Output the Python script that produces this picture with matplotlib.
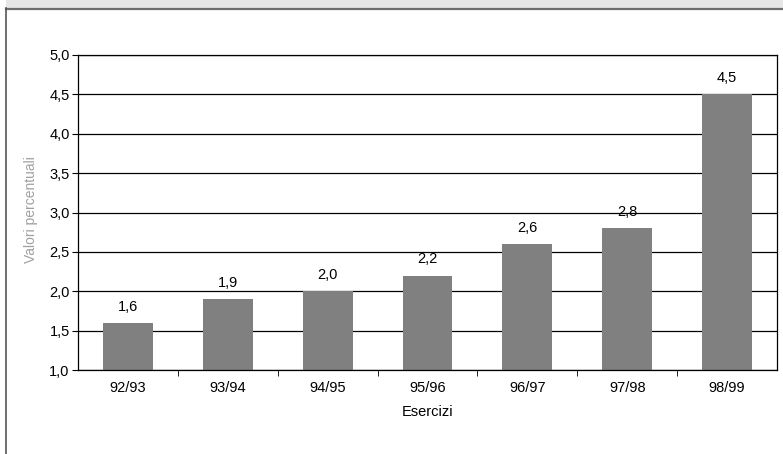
import matplotlib
matplotlib.use("Agg")
import matplotlib.pyplot as plt
from matplotlib.patches import Rectangle
from matplotlib.lines import Line2D

# dati del grafico
esercizi = ["92/93", "93/94", "94/95", "95/96", "96/97", "97/98", "98/99"]
valori = [1.6, 1.9, 2.0, 2.2, 2.6, 2.8, 4.5]
tick_y = [1.0, 1.5, 2.0, 2.5, 3.0, 3.5, 4.0, 4.5, 5.0]

plt.rcParams["font.family"] = ["Liberation Sans", "DejaVu Sans"]

fig = plt.figure(figsize=(7.83, 4.54), dpi=100)

# cornice in alto e a sinistra
fig.add_artist(Rectangle((6 / 783, 1 - 8 / 454), 1, 8 / 454,
                         transform=fig.transFigure, color="#e6e6e6", lw=0))
fig.add_artist(Line2D([6 / 783, 1], [1 - 8.5 / 454, 1 - 8.5 / 454],
                      transform=fig.transFigure, color="#6e6e6e", lw=1.6))
fig.add_artist(Line2D([5.5 / 783, 5.5 / 783], [0, 1 - 7.5 / 454],
                      transform=fig.transFigure, color="#555555", lw=1.2))

ax = fig.add_axes([78 / 783, 84 / 454, 699 / 783, 315 / 454])
x = range(len(esercizi))
ax.bar(x, valori, width=0.5, color="#808080", zorder=2)

for xi, v in zip(x, valori):
    ax.annotate(f"{v:.1f}".replace(".", ","), (xi, v), xytext=(0, 6.5),
                textcoords="offset points", ha="center", va="bottom",
                fontsize=10.5)

ax.set_ylim(1.0, 5.0)
ax.set_xlim(-0.5, len(esercizi) - 0.5)
ax.set_yticks(tick_y)
ax.set_yticklabels([f"{t:.1f}".replace(".", ",") for t in tick_y])
ax.set_xticks(x)
ax.set_xticklabels(esercizi)
ax.set_xticks([i + 0.5 for i in range(len(esercizi) - 1)], minor=True)
ax.tick_params(axis="x", which="major", length=0, labelsize=10.5, pad=8)
ax.tick_params(axis="x", which="minor", length=4, direction="out")
ax.tick_params(axis="y", length=4, labelsize=10.5, pad=2)
ax.grid(axis="y", color="black", lw=0.9, zorder=1)
for s in ax.spines.values():
    s.set_color("black")
    s.set_linewidth(0.9)

ax.set_xlabel("Esercizi", fontsize=10.5, labelpad=7)
fig.text(31 / 783, 1 - 210 / 454, "Valori percentuali", rotation=90,
         ha="center", va="center", fontsize=10, color="#a0a0a0")

fig.savefig("out.png", dpi=100)
